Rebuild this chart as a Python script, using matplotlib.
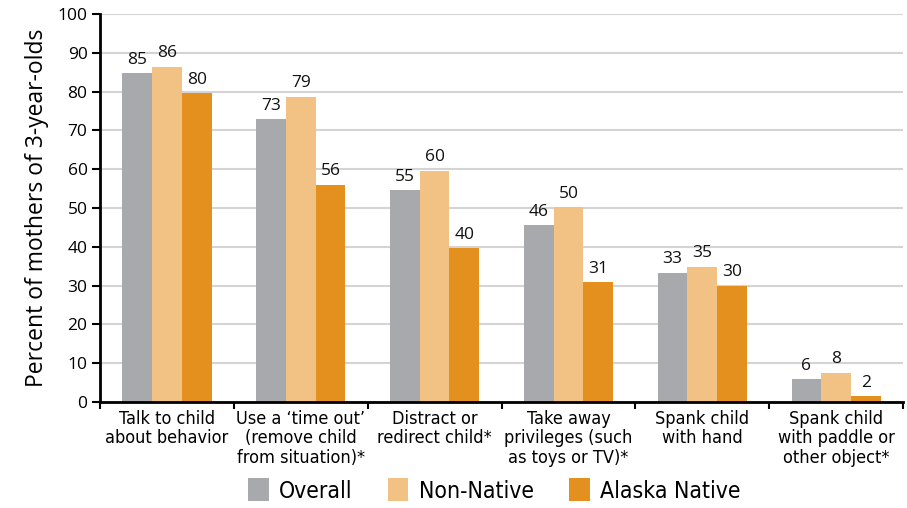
import matplotlib
matplotlib.use("Agg")
import matplotlib.pyplot as plt
import numpy as np

# survey results, percent of mothers of 3-year-olds
categories = ["Talk to child\nabout behavior",
              "Use a \u2018time out\u2019\n(remove child\nfrom situation)*",
              "Distract or\nredirect child*",
              "Take away\nprivileges (such\nas toys or TV)*",
              "Spank child\nwith hand",
              "Spank child\nwith paddle or\nother object*"]
overall = [84.7, 72.9, 54.6, 45.6, 33.3, 5.8]
non_native = [86.4, 78.6, 59.6, 50.2, 34.8, 7.5]
alaska_native = [79.6, 56.0, 39.6, 30.8, 29.9, 1.5]
series_names = ["Overall", "Non-Native", "Alaska Native"]
colors = ["#A7A9AC", "#F1C283", "#E4901E"]
yticks = [0, 10, 20, 30, 40, 50, 60, 70, 80, 90, 100]

plt.rcParams['font.family'] = ['Open Sans', 'DejaVu Sans']

fig = plt.figure(figsize=(9.07, 5.08), dpi=100)
ax = fig.add_axes([0.1103, 0.2087, 0.8853, 0.7637])

x = np.arange(len(categories))
w = 0.222
for i, (vals, name, c) in enumerate(zip([overall, non_native, alaska_native], series_names, colors)):
    bars = ax.bar(x + (i - 1) * w, vals, w, color=c, label=name, zorder=3)
    ax.bar_label(bars, labels=[str(int(v + 0.5)) for v in vals], padding=4,
                 fontsize=12.5, color="#111111")

ax.set_xlim(-0.5, len(categories) - 0.5)
ax.set_ylim(0, 100)
ax.set_yticks(yticks)
ax.tick_params(axis='y', labelsize=12.5, length=6, width=1.5, direction='out', pad=3)
ax.yaxis.grid(True, color="#D4D4D4", linewidth=1.5, zorder=0)

# category boundaries carry the tick marks, names sit in between
ax.set_xticks(np.arange(len(categories) + 1) - 0.5)
ax.set_xticklabels([])
ax.tick_params(axis='x', length=5, width=1.5, direction='out')
ax.set_xticks(x, minor=True)
ax.set_xticklabels(categories, minor=True, family='DejaVu Sans', fontstretch='condensed',
                   fontsize=13, linespacing=1.08, va='top')
ax.tick_params(axis='x', which='minor', length=0, pad=6)

for s in ['top', 'right']:
    ax.spines[s].set_visible(False)
for s in ['left', 'bottom']:
    ax.spines[s].set_linewidth(2)
ax.spines['left'].set_zorder(4)
ax.spines['bottom'].set_zorder(4)

ax.set_ylabel("Percent of mothers of 3-year-olds", fontsize=16.5, labelpad=6)

fig.legend(loc='lower center', bbox_to_anchor=(0.545, -0.03), ncol=3, frameon=False,
           handlelength=0.9, handleheight=1.15, handletextpad=0.45, columnspacing=1.55,
           prop={'family': 'DejaVu Sans', 'stretch': 'condensed', 'size': 16.5})

fig.savefig("out.png", dpi=100)
